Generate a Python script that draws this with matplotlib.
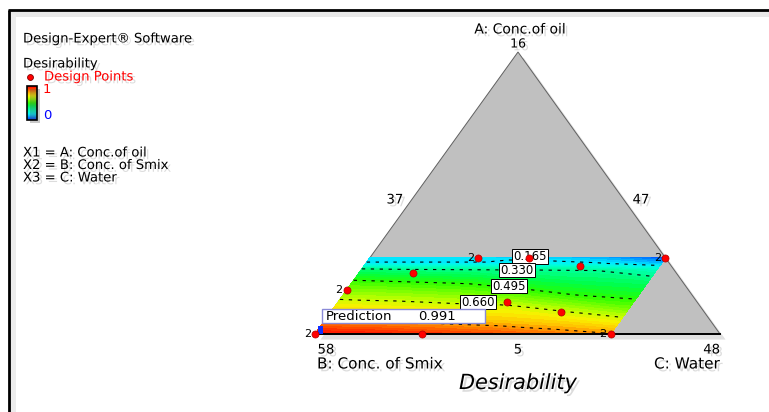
import numpy as np
import matplotlib
matplotlib.use('Agg')
import matplotlib.pyplot as plt
import matplotlib.tri as mtri
from matplotlib.colors import LinearSegmentedColormap
from matplotlib import patheffects as pe
from matplotlib.patches import Polygon, Rectangle

# ---------------- data ----------------
# pseudo-component levels (A = oil, C = water; B = 1 - A - C)
a_levels = [0.0, 0.045, 0.09, 0.135, 0.18, 0.225, 0.25, 0.27]
c_levels = [0.0, 0.146, 0.292, 0.438, 0.584, 0.73]
# desirability read on the (A, C) grid (rows = A levels, cols = C levels)
desirability = [
    [0.99, 0.97, 0.94, 0.91, 0.87, 0.83],
    [0.84, 0.825, 0.80, 0.78, 0.75, 0.70],
    [0.74, 0.72, 0.70, 0.69, 0.63, 0.57],
    [0.63, 0.62, 0.60, 0.56, 0.50, 0.47],
    [0.53, 0.51, 0.49, 0.44, 0.41, 0.39],
    [0.38, 0.36, 0.35, 0.34, 0.33, 0.28],
    [0.17, 0.17, 0.17, 0.19, 0.17, 0.12],
    [0.15, 0.15, 0.15, 0.14, 0.10, 0.03],
]
contour_levels = [0.165, 0.33, 0.495, 0.66, 0.825]
contour_labels = ["0.165", "0.330", "0.495", "0.660"]

design_A = [0.0, 0.0, 0.0, 0.156, 0.27, 0.27, 0.27, 0.216, 0.241, 0.113, 0.078]
design_C = [0.0, 0.264, 0.73, 0.0, 0.267, 0.393, 0.73, 0.134, 0.534, 0.417, 0.568]
design_reps = [2, 1, 2, 2, 2, 1, 2, 1, 1, 1, 1]

apex_label, left_label, right_label = "16", "58", "48"
side_AB, side_AC, side_BC = "37", "47", "5"
prediction = 0.991
legend_lines = ["X1 = A: Conc.of oil", "X2 = B: Conc. of Smix", "X3 = C: Water"]

# ---------------- layout ----------------
VA = np.array([518.0, 52.0])
VB = np.array([315.0, 334.0])
VC = np.array([720.0, 334.0])


def tern(a, c):
    a = np.asarray(a, float)
    c = np.asarray(c, float)
    b = 1 - a - c
    x = a * VA[0] + b * VB[0] + c * VC[0]
    y = a * VA[1] + b * VB[1] + c * VC[1]
    return x, y


cmap = LinearSegmentedColormap.from_list("de", [
    (0.00, (0/255, 50/255, 1.0)),
    (0.06, (0/255, 120/255, 1.0)),
    (0.12, (0/255, 195/255, 1.0)),
    (0.17, (0/255, 240/255, 1.0)),
    (0.24, (0/255, 1.0, 210/255)),
    (0.33, (0/255, 1.0, 150/255)),
    (0.42, (0/255, 1.0, 70/255)),
    (0.50, (40/255, 1.0, 0)),
    (0.58, (120/255, 1.0, 0)),
    (0.66, (200/255, 1.0, 0)),
    (0.72, (250/255, 240/255, 0)),
    (0.79, (1.0, 195/255, 0)),
    (0.86, (1.0, 125/255, 0)),
    (0.93, (1.0, 60/255, 0)),
    (1.00, (1.0, 0, 0)),
])

plt.rcParams['font.family'] = ['DejaVu Sans']

fig = plt.figure(figsize=(7.69, 4.12), dpi=100)
ax = fig.add_axes([0, 0, 1, 1])
ax.set_xlim(0, 769)
ax.set_ylim(412, 0)
ax.axis('off')

shadow = [pe.SimplePatchShadow(offset=(2, -2), shadow_rgbFace=(0.55, 0.55, 0.55), alpha=0.3), pe.Normal()]

# frame
ax.plot([8, 769], [13, 13], color='#e8e8e8', lw=5, solid_capstyle='butt', zorder=1)
ax.plot([12, 12], [14, 412], color='#ececec', lw=5, solid_capstyle='butt', zorder=1)
ax.plot([8, 769], [10, 10], color='black', lw=2.0, solid_capstyle='butt', zorder=2)
ax.plot([8.5, 8.5], [10, 412], color='black', lw=2.0, solid_capstyle='butt', zorder=2)

# triangle
tri_poly = Polygon([VA, VB, VC], closed=True, facecolor='#c0c0c0', edgecolor='#606060', lw=0.7, zorder=3,
                   path_effects=[pe.SimplePatchShadow(offset=(4, -4), shadow_rgbFace=(0.6, 0.6, 0.6), alpha=0.3), pe.Normal()])
ax.add_patch(tri_poly)

# desirability surface on a structured triangulation of the (A, C) grid
na, nc = len(a_levels), len(c_levels)
AA, CC = np.meshgrid(a_levels, c_levels, indexing='ij')
gx, gy = tern(AA.ravel(), CC.ravel())
Z = np.array(desirability).ravel()
tris = []
for i in range(na - 1):
    for j in range(nc - 1):
        p = i * nc + j
        tris.append([p, p + 1, p + nc])
        tris.append([p + 1, p + nc + 1, p + nc])
triang = mtri.Triangulation(gx, gy, triangles=tris)
ax.tricontourf(triang, Z, levels=np.linspace(0, 1, 41), cmap=cmap, vmin=0, vmax=1, zorder=4)
ax.tricontour(triang, Z, levels=contour_levels, colors='black', linewidths=0.8,
              linestyles=[(0, (3, 5))], zorder=5)

# bottom edge
ax.plot([VB[0], VC[0]], [VB[1], VC[1]], color='black', lw=1.4, zorder=6)

# contour labels
label_pos = [(530, 256.5), (517, 270), (509, 286), (478, 302)]
for (lx, ly), t in zip(label_pos, contour_labels):
    ax.text(lx, ly, t, ha='center', va='center', fontsize=8.5, zorder=7,
            bbox=dict(boxstyle='square,pad=0.08', fc='white', ec='black', lw=0.7))

# design points
px, py = tern(design_A, design_C)
ax.scatter(px, py, s=26, c='#ff0000', edgecolors='#b00000', linewidths=0.5, zorder=9)
for x, y, r in zip(px, py, design_reps):
    if r > 1:
        ax.text(x - 4, y, str(r), ha='right', va='center', fontsize=8, zorder=9)

# prediction flag
fx, fy = tern(0, 0)
ax.add_patch(Rectangle((fx + 3, fy - 8), 5, 8, facecolor='#1030ff', edgecolor='none', zorder=8))
ax.add_patch(Rectangle((322, 309), 163, 14, facecolor='white', edgecolor='#8a8ad8', lw=1.0, zorder=10))
ax.text(326, 316.5, "Prediction", ha='left', va='center', fontsize=9.5, zorder=11)
ax.text(418, 316.5, f"{prediction:.3f}", ha='left', va='center', fontsize=9.5, zorder=11)

# vertex / side labels
ax.text(VA[0] + 2, 29.5, "A: Conc.of oil", ha='center', va='center', fontsize=10, path_effects=shadow)
ax.text(VA[0], 44, apex_label, ha='center', va='center', fontsize=9, path_effects=shadow)
ax.text(395, 200, side_AB, ha='center', va='center', fontsize=9.5, path_effects=shadow)
ax.text(641, 200, side_AC, ha='center', va='center', fontsize=9.5, path_effects=shadow)
ax.text(326, 350, left_label, ha='center', va='center', fontsize=9.5, path_effects=shadow)
ax.text(518, 350, side_BC, ha='center', va='center', fontsize=9.5, path_effects=shadow)
ax.text(720, 350, right_label, ha='right', va='center', fontsize=9.5, path_effects=shadow)
ax.text(317, 364, "B: Conc. of Smix", ha='left', va='center', fontsize=11, path_effects=shadow)
ax.text(720, 364, "C: Water", ha='right', va='center', fontsize=11, path_effects=shadow)
ax.text(518, 383, "Desirability", ha='center', va='center', fontsize=15, style='italic', path_effects=shadow)

# left legend panel
ax.text(23, 39, "Design-Expert® Software", ha='left', va='center', fontsize=9.5, path_effects=shadow)
ax.text(23, 64, "Desirability", ha='left', va='center', fontsize=9.5, path_effects=shadow)
ax.scatter([30], [77], s=18, c='#ff0000', edgecolors='#800000', linewidths=0.6, zorder=5)
ax.text(44, 77, "Design Points", ha='left', va='center', fontsize=9.5, color='#ff0000', path_effects=shadow)
grad = np.linspace(1, 0, 60).reshape(-1, 1)
ax.imshow(grad, cmap=cmap, vmin=0, vmax=1, extent=(27, 37, 120, 86), origin='upper', aspect='auto', zorder=5)
ax.add_patch(Rectangle((27, 86), 10, 34, facecolor='none', edgecolor='black', lw=1.2, zorder=6,
                       path_effects=[pe.SimplePatchShadow(offset=(2, -2), alpha=0.3), pe.Normal()]))
ax.text(43, 89, "1", ha='left', va='center', fontsize=9.5, color='#ff0000')
ax.text(43, 115, "0", ha='left', va='center', fontsize=9.5, color='#0000ff')
for i, t in enumerate(legend_lines):
    ax.text(23, 153 + 12.5 * i, t, ha='left', va='center', fontsize=9.5, path_effects=shadow)

fig.savefig('out.png', dpi=100)
